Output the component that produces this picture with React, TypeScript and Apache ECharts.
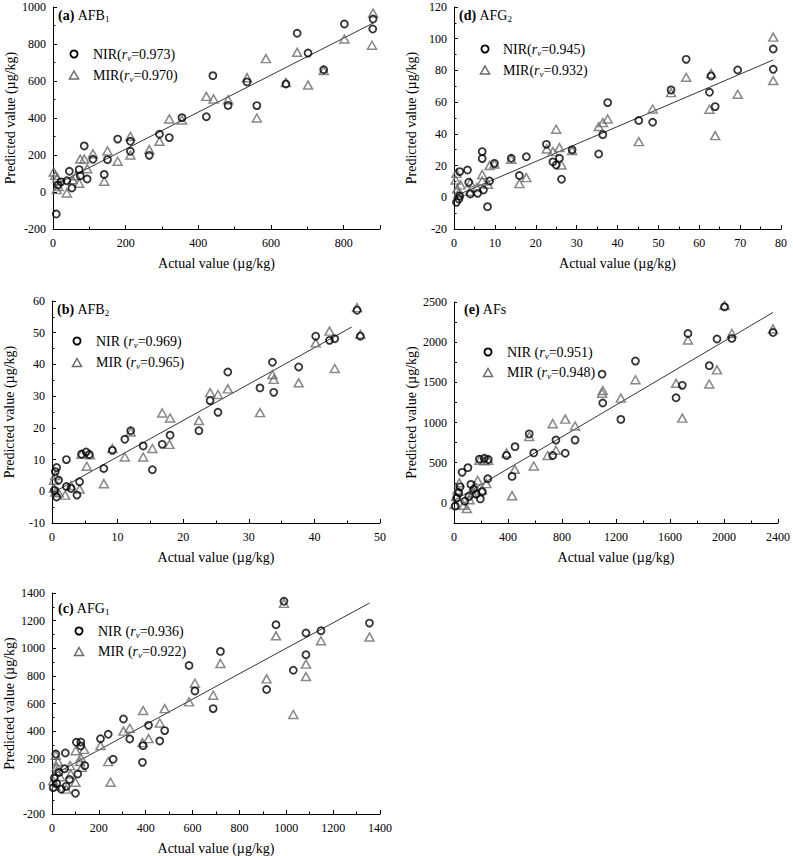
import React, { useEffect, useRef } from "react";
import * as echarts from "echarts";

// ---------- data (actual, predicted) ----------
const aNIR = [[9,-119],[881,935],[880,881],[802,908],[672,858],[702,751],[745,661],[641,584],[561,467],[534,595],[482,468],[440,629],[422,407],[355,402],[320,294],[293,312],[265,198],[213,274],[213,220],[178,286],[150,175],[141,95],[110,177],[86,249],[94,70],[75,88],[72,121],[45,112],[38,61],[52,22],[14,38],[22,55]];
const aMIR = [[881,967],[878,793],[802,827],[672,755],[702,578],[745,656],[641,591],[586,721],[561,400],[534,618],[482,499],[442,503],[422,517],[355,389],[320,395],[293,274],[265,229],[213,301],[213,200],[178,166],[150,222],[141,58],[110,207],[86,178],[75,178],[94,126],[72,47],[63,88],[54,67],[38,-5],[2,108],[12,76],[10,13],[6,90],[15,30]];
const aFit = [[0,32],[881,913]];

const dNIR = [[78.1,93.5],[78.1,80.7],[69.4,80.3],[56.8,87.0],[62.9,76.5],[62.5,66.2],[63.9,57.2],[53.1,67.7],[48.6,47.3],[45.2,48.4],[37.6,59.7],[36.4,39.5],[35.4,27.3],[28.9,29.9],[26.3,11.4],[25.8,24.6],[25.0,20.4],[24.2,22.3],[22.6,33.4],[17.7,25.6],[16.0,13.7],[14.0,24.6],[9.9,21.4],[8.7,10.3],[8.2,-5.9],[6.9,28.8],[6.9,24.4],[7.2,4.6],[5.8,2.5],[4.0,2.1],[3.6,9.5],[3.3,17.2],[1.4,16.2],[1.4,0.8],[1.2,-1.1],[0.6,-3.2]];
const dMIR = [[78.1,101],[78.1,73.6],[69.4,65],[56.8,75.7],[62.9,78],[62.5,55.5],[63.9,38.9],[53.1,66],[48.6,55.7],[45.2,35.1],[37.6,49.4],[36.4,47.1],[35.4,44.6],[28.9,29.4],[25.0,42.9],[25.8,31.3],[26.3,20.4],[24.2,28.8],[22.7,30.5],[17.7,12.4],[16.0,8.6],[14.0,24.0],[9.9,21.0],[8.7,20.0],[8.3,8.2],[6.9,14.3],[6.9,10.3],[5.6,6.1],[3.8,3.6],[4.0,9.2],[1.6,7.8],[1.1,2.5],[0.6,15.1],[0.4,10.9],[0.8,5.3]];
const dFit = [[0,0.5],[78.1,86.6]];

const bNIR = [[46.5,57.1],[47.0,48.9],[43.1,48.1],[42.3,47.6],[40.2,48.9],[37.6,39.2],[33.6,40.7],[33.8,31.2],[31.7,32.6],[26.8,37.6],[25.3,24.9],[24.1,28.6],[22.4,19.1],[18.0,17.7],[16.8,14.8],[15.3,6.8],[13.9,14.3],[12.0,19.1],[11.1,16.4],[9.2,12.9],[7.9,7.2],[5.7,11.6],[5.2,12.4],[4.5,11.7],[2.2,10.0],[0.7,7.5],[3.8,-1.2],[4.2,3.0],[2.9,0.9],[2.2,1.5],[0.7,-1.8],[0.4,0.3],[0.5,6.2],[1.0,3.5]];
const bMIR = [[46.5,57.9],[47.0,49.5],[42.3,50.5],[40.2,46.8],[43.1,38.7],[37.6,34.2],[33.6,36.8],[33.8,35.3],[31.7,24.8],[26.8,32.3],[25.3,30.5],[24.1,31.1],[22.4,22.3],[18.0,23.1],[16.8,24.7],[17.9,14.8],[15.3,13.5],[13.9,10.8],[12.0,18.7],[11.1,10.8],[9.2,13.5],[5.3,7.9],[4.5,11.7],[5.8,11.5],[7.9,2.4],[4.2,0.7],[2.0,-1.2],[2.9,1.8],[0.3,1.0],[0.3,3.5],[0.5,5.0],[1.0,-0.5],[0.5,-0.2]];
const bFit = [[0,-0.6],[45.7,51.8]];

const eNIR = [[2363,2120],[2004,2439],[2058,2047],[1948,2039],[1891,1708],[1691,1463],[1645,1308],[1733,2108],[1344,1765],[1236,1039],[1102,1243],[1097,1602],[897,782],[824,618],[755,782],[731,590],[591,622],[557,859],[452,700],[389,590],[188,545],[225,555],[254,540],[103,439],[430,330],[10,-40],[20,60],[35,130],[45,200],[60,380],[80,20],[110,80],[125,230],[145,170],[165,110],[195,50],[210,140],[250,300]];
const eMIR = [[2004,2459],[2363,2165],[2058,2108],[1733,2027],[1948,1655],[1891,1480],[1645,1488],[1691,1055],[1344,1533],[1236,1304],[1102,1398],[1097,1365],[897,957],[824,1043],[731,986],[755,655],[694,590],[557,827],[389,622],[188,530],[225,525],[254,530],[591,459],[450,418],[430,90],[5,-20],[15,80],[25,160],[40,250],[70,-30],[95,-70],[115,40],[135,120],[155,210],[175,280],[205,160],[240,240]];
const eFit = [[0,30],[2363,2370]];

const cNIR = [[990,1340],[1355,1182],[1148,1127],[1084,1110],[1084,953],[1030,841],[956,1170],[916,701],[719,977],[610,691],[585,875],[688,563],[481,404],[460,329],[412,442],[389,295],[386,174],[332,343],[305,488],[261,196],[240,377],[207,345],[140,150],[123,292],[123,321],[104,319],[57,242],[16,234],[54,128],[10,60],[20,20],[30,100],[60,0],[75,50],[100,-50],[110,90],[5,-10],[40,-20]];
const cMIR = [[990,1325],[1355,1081],[1148,1054],[1084,885],[1084,795],[1030,520],[956,1090],[916,778],[719,890],[610,747],[585,612],[688,660],[481,563],[460,459],[412,346],[389,549],[386,317],[332,421],[305,400],[240,179],[207,295],[123,208],[137,268],[101,258],[16,225],[20,143],[77,150],[127,138],[5,40],[15,0],[25,180],[35,70],[60,-20],[80,90],[100,30],[120,180],[250,30],[20,110]];
const cFit = [[0,79],[1355,1327]];

const panelTags = ["(a)", "(b)", "(c)", "(d)", "(e)"];
const panelNames = [["AFB", "1"], ["AFB", "2"], ["AFG", "1"], ["AFG", "2"], ["AFs", ""]];
const nirR = ["0.973", "0.969", "0.936", "0.945", "0.951"];
const mirR = ["0.970", "0.965", "0.922", "0.932", "0.948"];
const legendSpace = ["", " ", " ", "", " "];

const xTitle = "Actual value (µg/kg)";
const yTitle = "Predicted value (µg/kg)";

const FONT = "Liberation Serif";

export default function App() {
  const ref = useRef<HTMLDivElement>(null);
  useEffect(() => {
    if (!ref.current) return;
    const chart = echarts.init(ref.current, undefined, { renderer: "svg" });

    // order: a, b, c, d, e ; y: [min, max, interval, labelStep, minor]
    const panels = [
      { grid: { left: 53, top: 7, width: 327, height: 222 }, x: [0, 900, 200], y: [-200, 1000, 200, 200, 1], nir: aNIR, mir: aMIR, fit: aFit, tag: [58, 15], leg: [74, 54, 93, 21] },
      { grid: { left: 52, top: 301, width: 328, height: 222 }, x: [0, 50, 10], y: [-10, 60, 10, 10, 1], nir: bNIR, mir: bMIR, fit: bFit, tag: [57, 309], leg: [77, 341, 96, 21.5] },
      { grid: { left: 52, top: 593, width: 328, height: 221 }, x: [0, 1400, 200], y: [-200, 1400, 200, 200, 1], nir: cNIR, mir: cMIR, fit: cFit, tag: [58, 608], leg: [79, 631, 98, 20.5] },
      { grid: { left: 454, top: 7, width: 327, height: 222 }, x: [0, 80, 10], y: [-20, 120, 20, 20, 1], nir: dNIR, mir: dMIR, fit: dFit, tag: [459, 15], leg: [485, 49, 503, 21] },
      { grid: { left: 454, top: 302, width: 327, height: 221 }, x: [0, 2400, 400], y: [-250, 2500, 250, 500, 0], nir: eNIR, mir: eMIR, fit: eFit, tag: [464, 309], leg: [488, 352, 507, 20.5] },
    ];

    const axisCommon = {
      type: "value",
      axisLine: { show: true, onZero: false, lineStyle: { color: "#000", width: 1 } },
      axisTick: { show: true, inside: true, length: 4, lineStyle: { color: "#000" } },
      splitLine: { show: false },
      nameLocation: "middle",
      nameTextStyle: { color: "#000", fontFamily: FONT, fontSize: 14, fontWeight: "normal" },
    };

    const grids: any[] = [];
    const xAxes: any[] = [];
    const yAxes: any[] = [];
    const series: any[] = [];
    const graphics: any[] = [];

    const richBase = {
      n: { fontFamily: FONT, fontSize: 14, color: "#000" },
      b: { fontFamily: FONT, fontSize: 14, fontWeight: "bold", color: "#000" },
      i: { fontFamily: FONT, fontSize: 14, fontStyle: "italic", color: "#000" },
      s: { fontFamily: FONT, fontSize: 9, color: "#000", padding: [7, 0, 0, 0] },
      si: { fontFamily: FONT, fontSize: 9, fontStyle: "italic", color: "#000", padding: [7, 0, 0, 0] },
    };

    panels.forEach((p, i) => {
      grids.push({ ...p.grid, containLabel: false });
      xAxes.push({
        ...axisCommon,
        gridIndex: i,
        min: p.x[0], max: p.x[1], interval: p.x[2],
        minorTick: { show: true, splitNumber: 2, length: 2.5, lineStyle: { color: "#000" } },
        axisLabel: { color: "#000", fontFamily: FONT, fontSize: 12, margin: 8, formatter: (v: number) => String(v), showMaxLabel: p.x[1] % p.x[2] === 0 },
        name: xTitle, nameGap: 27,
      });
      const step = p.y[3];
      yAxes.push({
        ...axisCommon,
        gridIndex: i,
        min: p.y[0], max: p.y[1], interval: p.y[2],
        minorTick: { show: p.y[4] === 1, splitNumber: 2, length: 2.5, lineStyle: { color: "#000" } },
        axisTick: { show: true, inside: true, length: p.y[4] === 1 ? 4 : 3, lineStyle: { color: "#000" } },
        axisLabel: {
          color: "#000", fontFamily: FONT, fontSize: 12, margin: 7,
          formatter: (v: number) => (Math.abs(v % step) < 1e-9 ? String(v) : ""),
        },
        name: yTitle, nameGap: 36,
      });
      series.push({
        type: "line", xAxisIndex: i, yAxisIndex: i, data: p.fit, symbol: "none", silent: true,
        lineStyle: { color: "#000", width: 0.8 }, z: 1,
      });
      series.push({
        type: "scatter", name: "MIR" + i, xAxisIndex: i, yAxisIndex: i, data: p.mir, symbol: "triangle", symbolSize: [9, 8], silent: true,
        itemStyle: { color: "transparent", borderColor: "#6a6a6a", borderWidth: 1.5 }, z: 2,
      });
      series.push({
        type: "scatter", name: "NIR" + i, xAxisIndex: i, yAxisIndex: i, data: p.nir, symbol: "circle", symbolSize: 7, silent: true,
        itemStyle: { color: "transparent", borderColor: "#000", borderWidth: 1.8 }, z: 3,
      });

      const nm = panelNames[i];
      graphics.push({
        type: "text", x: p.tag[0], y: p.tag[1],
        style: {
          text: "{b|" + panelTags[i] + "} {n|" + nm[0] + "}" + (nm[1] ? "{s|" + nm[1] + "}" : ""),
          verticalAlign: "middle", rich: richBase,
        },
      });
      const [cx, cy, tx, gap] = p.leg;
      const sp = legendSpace[i];
      graphics.push({ type: "circle", shape: { cx, cy, r: 3.6 }, style: { fill: "none", stroke: "#000", lineWidth: 1.8 } });
      graphics.push({
        type: "polygon",
        shape: { points: [[cx, cy + gap - 4], [cx + 4.5, cy + gap + 4], [cx - 4.5, cy + gap + 4]] },
        style: { fill: "none", stroke: "#6a6a6a", lineWidth: 1.5 },
      });
      graphics.push({
        type: "text", x: tx, y: cy,
        style: { text: "{n|NIR" + sp + "(}{i|r}{si|v}{n|=" + nirR[i] + ")}", verticalAlign: "middle", rich: richBase },
      });
      graphics.push({
        type: "text", x: tx, y: cy + gap,
        style: { text: "{n|MIR" + sp + "(}{i|r}{si|v}{n|=" + mirR[i] + ")}", verticalAlign: "middle", rich: richBase },
      });
    });

    chart.setOption({
      animation: false,
      backgroundColor: "#fff",
      textStyle: { fontFamily: FONT },
      grid: grids,
      xAxis: xAxes,
      yAxis: yAxes,
      series,
      graphic: graphics,
    });
    return () => chart.dispose();
  }, []);

  return <div ref={ref} style={{ position: "absolute", left: 0, top: 0, width: 793, height: 856 }} />;
}
